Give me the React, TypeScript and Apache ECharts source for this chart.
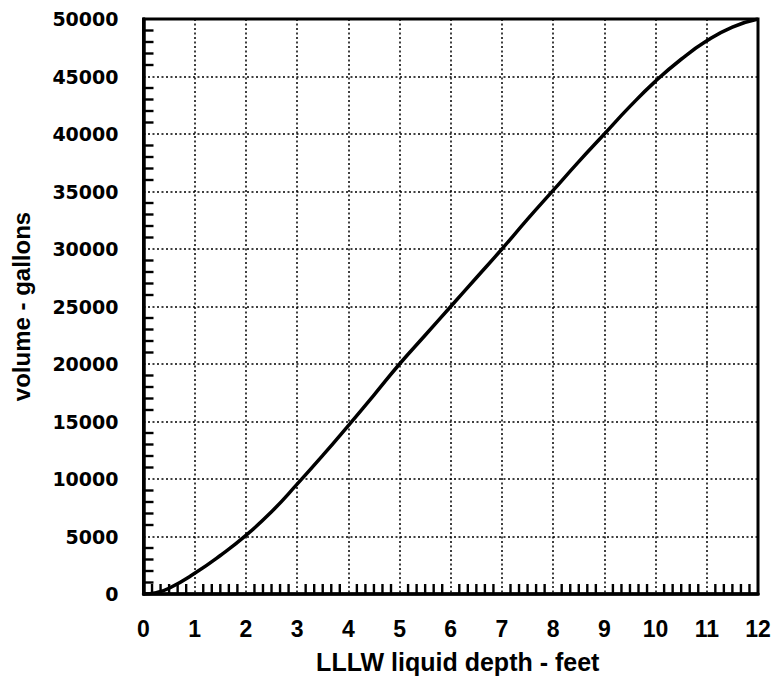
import React, { useEffect, useRef } from "react";
import * as echarts from "echarts";

const depthFeet = [0, 0.25, 0.5, 1, 1.5, 2, 2.5, 3, 3.5, 4, 4.5, 5, 5.5, 6, 6.5, 7, 7.5, 8, 8.5, 9, 9.5, 10, 10.5, 11, 11.5, 12];
const volumeGallons = [0, 120, 500, 1800, 3350, 5100, 7150, 9550, 12050, 14650, 17300, 20000, 22500, 25000, 27500, 30000, 32600, 35100, 37600, 40000, 42400, 44600, 46500, 48100, 49300, 50000];

const xTicks = [0, 1, 2, 3, 4, 5, 6, 7, 8, 9, 10, 11, 12];
const yTicks = [0, 5000, 10000, 15000, 20000, 25000, 30000, 35000, 40000, 45000, 50000];
const xMinorPerMajor = 6;
const yMinorPerMajor = 5;

const xName = "LLLW liquid depth - feet";
const yName = "volume - gallons";

export default function App() {
  const ref = useRef<HTMLDivElement>(null);
  useEffect(() => {
    if (!ref.current) return;
    const chart = echarts.init(ref.current, null, { renderer: "svg" });
    const dotted = { color: "#000", width: 1.5, type: [2, 2.5] as any };

    chart.setOption({
      animation: false,
      backgroundColor: "#fff",
      grid: {
        left: 143.5, right: 21, top: 19, bottom: 92, containLabel: false,
        show: true, borderColor: "#000", borderWidth: 3, backgroundColor: "transparent",
      },
      xAxis: [
        {
          type: "value",
          min: xTicks[0],
          max: xTicks[xTicks.length - 1],
          interval: 1,
          name: xName,
          nameLocation: "middle",
          nameGap: 55,
          nameTextStyle: { fontFamily: "Liberation Sans, Arial, sans-serif", fontWeight: "bold", fontSize: 25, color: "#000", padding: [0, 0, 0, 14] },
          axisLine: { show: true, onZero: false, lineStyle: { color: "#000", width: 3.5 } },
          axisTick: { show: false },
          axisLabel: { margin: 23, fontFamily: "Liberation Sans, Arial, sans-serif", fontWeight: "bold", fontSize: 23, color: "#000", formatter: (v: number) => String(v) },
          splitLine: { show: true, lineStyle: dotted },
        },
      ],
      yAxis: [
        {
          type: "value",
          min: yTicks[0],
          max: yTicks[yTicks.length - 1],
          interval: 5000,
          name: yName,
          nameLocation: "middle",
          nameGap: 110,
          nameTextStyle: { fontFamily: "Liberation Sans, Arial, sans-serif", fontWeight: "bold", fontSize: 24, color: "#000" },
          axisLine: { show: true, onZero: false, lineStyle: { color: "#000", width: 3.5 } },
          axisTick: { show: false },
          axisLabel: { margin: 25, fontFamily: "DejaVu Sans, sans-serif", fontWeight: "bold", fontSize: 19, color: "#000", formatter: (v: number) => String(v) },
          splitLine: { show: true, lineStyle: dotted },
        },
      ],
      series: [
        {
          type: "line",
          data: depthFeet.map((d, i) => [d, volumeGallons[i]]),
          smooth: 0.5,
          showSymbol: false,
          lineStyle: { color: "#000", width: 3.5 },
          z: 5,
        },
      ],
    });

    // minor tick marks, positioned through the chart's own scales
    const tickLen = 10;
    const finder = { xAxisIndex: 0, yAxisIndex: 0 };
    const els: any[] = [];
    for (let i = 0; i < xTicks.length - 1; i++) {
      const a = xTicks[i], b = xTicks[i + 1];
      for (let k = 1; k < xMinorPerMajor; k++) {
        const p = chart.convertToPixel(finder, [a + ((b - a) * k) / xMinorPerMajor, yTicks[0]]) as number[];
        if (!p) continue;
        els.push({ type: "rect", z: 100, silent: true, shape: { x: p[0] - 1.2, y: p[1] - tickLen, width: 2.4, height: tickLen }, style: { fill: "#000" } });
      }
    }
    for (let i = 0; i < yTicks.length - 1; i++) {
      const a = yTicks[i], b = yTicks[i + 1];
      for (let k = 1; k < yMinorPerMajor; k++) {
        const p = chart.convertToPixel(finder, [xTicks[0], a + ((b - a) * k) / yMinorPerMajor]) as number[];
        if (!p) continue;
        els.push({ type: "rect", z: 100, silent: true, shape: { x: p[0], y: p[1] - 1.2, width: tickLen, height: 2.4 }, style: { fill: "#000" } });
      }
    }
    chart.setOption({ graphic: { elements: els } });

    return () => chart.dispose();
  }, []);
  return <div ref={ref} style={{ position: "absolute", left: 0, top: 0, width: 779, height: 686, background: "#fff" }} />;
}
